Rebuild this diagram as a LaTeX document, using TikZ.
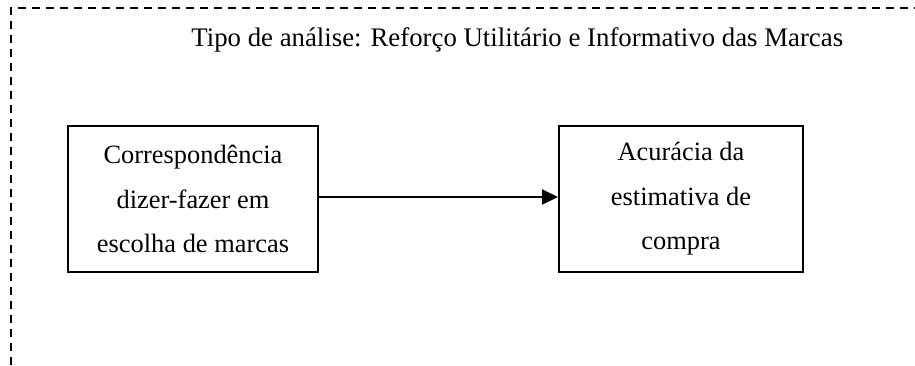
\documentclass[tikz,border=0pt]{standalone}
\usepackage{fontspec}
\setmainfont{Liberation Serif}
\usetikzlibrary{arrows.meta}
\begin{document}
\begin{tikzpicture}[x=0.5pt,y=-0.5pt,
  txt/.style={font=\fontsize{13.2}{22.2}\selectfont},
  varbox/.style={draw,line width=1pt,minimum height=73pt,align=center,inner sep=0pt,txt},
  frame/.style={line width=1.2pt,dash pattern=on 4pt off 3pt},
  conn/.style={line width=1pt,-{Triangle[length=8pt,width=7.5pt]}}]
\useasboundingbox (0,0) rectangle (915,365);
\coordinate (fb) at (11,365);
\coordinate (fc) at (11,8);
\coordinate (fr) at (915,8);
\draw[frame] (fb) -- (fc) -- (fr);
\node[font=\fontsize{13.4}{16}\selectfont,inner sep=0pt,anchor=base west] (title) at (191,46) {Tipo de análise: Reforço Utilitário e Informativo das Marcas};
\node[varbox,minimum width=125pt] (a) at (193,199) {Correspondência\\dizer-fazer em\\escolha de marcas};
\node[varbox,minimum width=122pt] (b) at (681,199) {Acurácia da\\estimativa de\\compra};
\draw[conn] ([yshift=1pt]a.east) -- ([yshift=1pt]b.west);
\end{tikzpicture}
\end{document}
